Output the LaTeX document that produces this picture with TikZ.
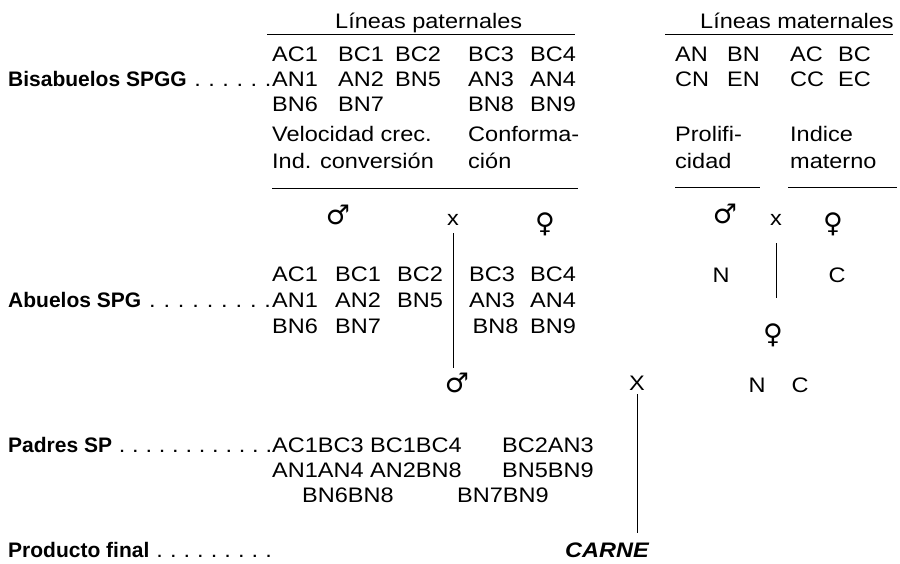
\documentclass[tikz,border=0pt]{standalone}
\usepackage{fontspec}
\setmainfont{Liberation Sans}[FakeStretch=1.12]
\newfontfamily\rotfont{Liberation Sans}
\newfontfamily\simfont{DejaVu Sans}
\usepackage{tikz}
\usetikzlibrary{positioning}

\newcommand{\puntos}{\xleaders\hbox to 13.2pt{\hss.}\hfill}
\newcommand{\rotulo}[1]{\makebox[264pt][l]{{\rotfont\bfseries #1}\puntos}}

\begin{document}
\begin{tikzpicture}[x=1pt,y=-1pt,
  every node/.style={font=\fontsize{21}{25}\selectfont,inner sep=0pt},
  txt/.style={anchor=base west},
  sym/.style={font=\fontsize{27}{30}\selectfont\simfont},
  regla/.style={line width=0.9pt},
  linea/.style={line width=0.8pt}
]
\useasboundingbox (0,0) rectangle (900,563);

\node[txt] (hpat) at (335,28) {Líneas paternales};
\node[txt] (hmat) at (700,28) {Líneas maternales};
\draw[regla] (267,34) -- (575,34);
\draw[regla] (665,34) -- (893,34);

\node[txt] (bis) at (8,86.5) {\rotulo{Bisabuelos SPGG}};
\node[txt] (bpA) at (272,61.5) {\begin{tabular}[t]{@{}p{66pt}@{}p{57pt}@{}l@{}}
  AC1&BC1&BC2\\ AN1&AN2&BN5\\ BN6&BN7&\\[5pt]
  \multicolumn{3}{@{}l@{}}{Velocidad crec.}\\[2pt] \multicolumn{3}{@{}l@{}}{Ind. conversión}\end{tabular}};
\node[txt] (bpB) at (468,61.5) {\begin{tabular}[t]{@{}p{62pt}@{}l@{}}
  BC3&BC4\\ AN3&AN4\\ BN8&BN9\\[5pt]
  \multicolumn{2}{@{}l@{}}{Conforma-}\\[2pt] \multicolumn{2}{@{}l@{}}{ción}\end{tabular}};
\node[txt] (bmA) at (675,61.5) {\begin{tabular}[t]{@{}p{52pt}@{}l@{}}
  AN&BN\\ CN&EN\\ &\\[5pt]
  \multicolumn{2}{@{}l@{}}{Prolifi-}\\[2pt] \multicolumn{2}{@{}l@{}}{cidad}\end{tabular}};
\node[txt] (bmB) at (790,61.5) {\begin{tabular}[t]{@{}p{48pt}@{}l@{}}
  AC&BC\\ CC&EC\\ &\\[5pt]
  \multicolumn{2}{@{}l@{}}{Indice}\\[2pt] \multicolumn{2}{@{}l@{}}{materno}\end{tabular}};
\draw[regla] (272,188) -- (578,188);
\draw[regla] (675,187) -- (760,187);
\draw[regla] (788,187) -- (897,187);

\node[sym] (mpat) at (338,215) {♂};
\node (xpat) at (453,220) {x};
\node[sym] (fpat) at (545,224) {♀};
\node[sym] (mmat) at (725,214) {♂};
\node (xmat) at (776,220) {x};
\node[sym] (fmat) at (833,224) {♀};

\node[txt] (abu) at (8,307) {\rotulo{Abuelos SPG}};
\node[txt] (apA) at (272,281) {\begin{tabular}[t]{@{}p{63pt}@{}p{62pt}@{}l@{}}
  AC1&BC1&BC2\\[1pt] AN1&AN2&BN5\\[1pt] BN6&BN7&\end{tabular}};
\node[txt] (apB) at (469,281) {\begin{tabular}[t]{@{}p{61pt}@{}l@{}}
  BC3&BC4\\[1pt] AN3&AN4\\[1pt] \,BN8&BN9\end{tabular}};
\node (nmat) at (721,275) {N};
\node (cmat) at (837,275) {C};
\node[sym] (fhij) at (773,335) {♀};

\node[sym] (mhij) at (457,383) {♂};
\node (xfin) at (637,383) {X};
\node (nfin) at (757,385) {N};
\node (cfin) at (800,385) {C};

\node[txt] (pad) at (8,452) {\rotulo{Padres SP}};
\node[txt] (bpad) at (272,452) {\begin{tabular}[t]{@{}p{98pt}@{}p{132pt}@{}l@{}}
  AC1BC3&BC1BC4&BC2AN3\\ AN1AN4&AN2BN8&BN5BN9\\
  \multicolumn{3}{@{}l@{}}{\hspace*{30pt}\makebox[155pt][l]{BN6BN8}BN7BN9}\end{tabular}};

\node[txt] (prod) at (8,557) {\rotulo{Producto final}};
\node[txt] (carne) at (565,557) {\bfseries\itshape CARNE};

\draw[linea,shorten <=13pt,shorten >=15pt] (xpat.center) -- (xpat.center |- mhij.center);
\draw[linea,shorten <=23pt,shorten >=37pt] (xmat.center) -- (xmat.center |- fhij.center);
\draw[linea,shorten <=11pt,shorten >=17pt] (xfin.center) -- (xfin.center |- carne.center);
\end{tikzpicture}
\end{document}
